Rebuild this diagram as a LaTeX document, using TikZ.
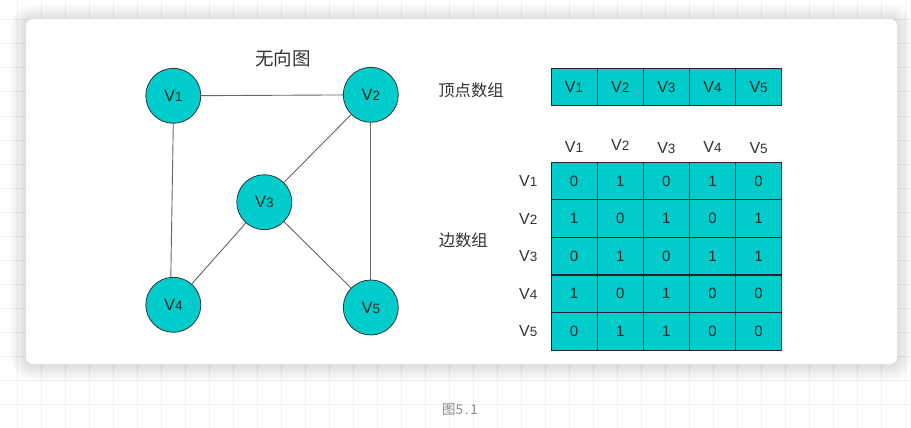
\documentclass[tikz,border=0pt]{standalone}
\usepackage{fontspec}
\setmainfont{Liberation Sans}
\newfontfamily\cjk{Noto Sans CJK SC}
\definecolor{cyanfill}{HTML}{00CCCC}
\definecolor{txt}{HTML}{333333}
\definecolor{gridc}{HTML}{F1F1F1}
\newcommand\vlab[1]{V{\fontsize{13.5}{14}\selectfont #1}}
\tikzset{
  gridline/.style={draw=gridc,line width=1pt},
  vert/.style={circle,draw=black!80,fill=cyanfill,minimum size=55pt,inner sep=0pt,line width=0.8pt,font=\fontsize{16.5}{16}\selectfont,text=black!85},
  cell/.style={rectangle,draw=black!85,fill=cyanfill,minimum width=46.14pt,minimum height=37.5pt,inner sep=0pt,line width=0.9pt,font=\fontsize{15}{15}\selectfont,text=black!85},
  hdr/.style={inner sep=0pt,font=\fontsize{16}{16}\selectfont,text=txt},
  cjklab/.style={inner sep=0pt,font=\cjk\fontsize{16.3}{16}\selectfont,text=txt},
  gedge/.style={draw=black!60,line width=0.9pt}
}
\begin{document}
\begin{tikzpicture}[x=1pt,y=-1pt]
\useasboundingbox (0,0) rectangle (911,428);
\fill[white] (0,0) rectangle (911,428);
\foreach \x in {17.3,41.3,...,911} \draw[gridline] (\x,0) -- (\x,428);
\foreach \y in {20,44,...,428} \draw[gridline] (0,\y) -- (911,\y);
% card shadow
\foreach \i [evaluate=\i as \r using 7+\i] in {1,...,16}
  \fill[black,opacity=0.007,rounded corners=\r pt] (26-\i,19-\i+1) rectangle (897+\i,364+\i+1);
\fill[white,rounded corners=7pt] (26,19) rectangle (897,364);

% graph
\node[cjklab,font=\cjk\fontsize{18.5}{18}\selectfont] (title) at (283,58) {无向图};
\node[vert] (v1) at (173.3,95.8) {\vlab{1}};
\node[vert] (v2) at (370.8,94.8) {\vlab{2}};
\node[vert] (v3) at (264.3,202.2) {\vlab{3}};
\node[vert] (v4) at (173.3,304.8) {\vlab{4}};
\node[vert] (v5) at (370.8,307.5) {\vlab{5}};
\draw[gedge] (v1) -- (v2);
\draw[gedge] (v1.south) -- ([xshift=-2.5pt]v4.north);
\draw[gedge] (v2) -- (v3);
\draw[gedge] (v2) -- (v5);
\draw[gedge] (v3) -- (v4);
\draw[gedge] (v3) -- (v5);

% vertex array
\node[cjklab] (vlabel) at (471,90) {顶点数组};
\foreach \i in {1,...,5}
  \node[cell,font=\fontsize{16}{16}\selectfont] (a\i) at (551+46.14*\i-23.07,87) {\vlab{\i}};

% edge array
\node[cjklab] (elabel) at (463.3,240) {边数组};
\foreach \i/\yy in {1/147,2/145,3/148.5,4/147,5/148}
  \node[hdr] (c\i) at (551+46.14*\i-23.07,\yy) {\vlab{\i}};
\foreach \r/\vals in {1/{0,1,0,1,0},2/{1,0,1,0,1},3/{0,1,0,1,1},4/{1,0,1,0,0},5/{0,1,1,0,0}}{
  \node[hdr] (r\r) at (528.3,162.3+37.55*\r-18.78) {\vlab{\r}};
  \foreach \v [count=\c] in \vals
    \node[cell] (m\r\c) at (551+46.14*\c-23.07,162.3+37.55*\r-18.78) {\v};
}

% caption
\node[inner sep=0pt,font=\cjk\fontsize{13.5}{14}\selectfont,text=black!45] (cap) at (460,410) {图5{\kern1.8pt}.{\kern1.8pt}1};
\end{tikzpicture}
\end{document}
